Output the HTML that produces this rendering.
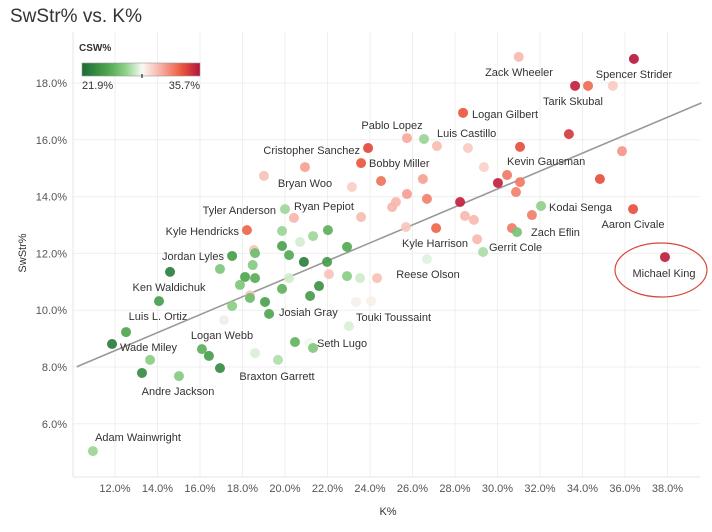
<!DOCTYPE html>
<html><head><meta charset="utf-8"><style>
body{margin:0;background:#fff;font-family:"Liberation Sans",sans-serif}
svg text{font-family:"Liberation Sans",sans-serif}
</style></head><body>
<svg id="c" width="712" height="527" viewBox="0 0 712 527">
<defs><linearGradient id="g" x1="0" x2="1">
<stop offset="0" stop-color="#1b6b33"/><stop offset="0.22" stop-color="#4fa650"/><stop offset="0.37" stop-color="#8fd18a"/><stop offset="0.51" stop-color="#f6faf4"/><stop offset="0.66" stop-color="#f9b3a8"/><stop offset="0.84" stop-color="#ec5a40"/><stop offset="1" stop-color="#b5123d"/></linearGradient></defs>
<text x="10" y="22" font-size="19" fill="#333">SwStr% vs. K%</text>
<g id="grid"></g><g id="axes"></g><g id="line"></g><g id="dots"></g><g id="labels"></g>
<ellipse cx="661" cy="270" rx="46" ry="27" fill="none" stroke="#d9463a" stroke-width="1.2"/>
<g>
<text x="79" y="51" font-size="10" font-weight="bold" fill="#333">CSW%</text>
<rect x="82" y="63" width="118" height="13" fill="url(#g)" stroke="#999" stroke-width="0.6"/>
<line x1="142" y1="74" x2="142" y2="78" stroke="#000" stroke-width="1"/>
<text x="82" y="89" font-size="11" fill="#333">21.9%</text>
<text x="200" y="89" font-size="11" fill="#333" text-anchor="end">35.7%</text>
</g>
<text x="388" y="515" font-size="11" fill="#333" text-anchor="middle">K%</text>
<text transform="translate(26,253) rotate(-90)" font-size="11" fill="#333" text-anchor="middle">SwStr%</text>
</svg>
<script>
const xTicks=[12,14,16,18,20,22,24,26,28,30,32,34,36,38];
const yTicks=[6,8,10,12,14,16,18];
const kPct=[31.0,36.42,33.65,34.26,35.43,28.38,25.74,26.54,27.15,28.61,23.91,23.58,31.06,33.36,35.86,30.45,30.02,31.06,30.87,34.82,28.24,24.52,26.49,25.74,25.04,25.22,26.68,20.94,19.01,23.15,29.36,23.58,25.69,28.47,28.89,27.11,29.04,29.32,32.05,31.62,36.38,30.68,30.92,37.88,20.0,20.42,18.21,19.86,21.32,22.02,20.71,19.86,20.19,20.89,21.98,22.92,17.51,18.54,18.59,16.94,18.12,18.59,17.88,18.35,18.35,17.51,19.06,19.25,19.86,20.19,21.6,21.18,18.48,22.07,22.92,23.53,24.33,26.68,23.01,14.59,14.07,12.52,11.86,13.65,13.27,15.01,10.96,16.09,16.42,16.94,18.59,19.67,20.47,21.13,21.32,17.13,23.34,24.05];
const swStr=[18.92,18.85,17.9,17.9,17.9,16.95,16.06,16.03,15.78,15.71,15.71,15.18,15.75,16.2,15.6,14.76,14.48,14.51,14.16,14.62,13.81,14.55,14.62,14.09,13.63,13.81,13.92,15.04,14.73,14.34,15.04,13.28,12.93,13.32,13.18,12.89,12.5,12.05,13.67,13.35,13.56,12.89,12.75,11.87,13.56,13.25,12.82,12.79,12.61,12.82,12.4,12.26,11.94,11.7,11.7,12.23,11.91,12.12,12.01,11.45,11.17,11.13,10.89,10.52,10.43,10.15,10.29,9.87,10.75,11.13,10.85,10.5,11.59,11.27,11.2,11.13,11.13,11.8,9.44,11.35,10.32,9.23,8.81,8.25,7.79,7.68,5.04,8.63,8.39,7.96,8.49,8.25,8.88,8.85,8.67,9.65,10.29,10.32];
const cswPct=[30.8,35.5,35.2,33,30.3,33.6,31.3,27.2,30.7,30.3,34,33.6,33.8,34.5,31.8,32.6,35.2,32.6,32.4,33.8,35.2,32.8,31.5,31.6,30.9,30.9,32.4,31.5,30.6,30.2,30.1,30.7,30.4,30.8,30.8,33.2,30.8,27.5,27,32.5,33.8,32.6,26.3,35.3,27.3,30.9,33.2,27.2,27.3,25.4,28.3,24.8,25.2,23,24.5,25.2,24.6,30.5,26,26.5,25,25.3,26.5,30.5,26,26.8,24.8,25,25.5,28.2,24,24.5,26.7,30.5,26.8,28.2,30.6,28.5,28.4,23,24.6,25,22.8,26.8,23.6,26.7,27.2,25.4,24.6,23.6,28.4,27.6,25.6,28.8,26.6,29.3,29.2,29.2];
const trendK=[10.2,39.6];
const trendS=[8.01,17.3];
const X=k=>115+(k-12)*21.25, Y=s=>83+(18-s)*28.4;
const NS='http://www.w3.org/2000/svg';
function mk(t,a,p){const e=document.createElementNS(NS,t);for(const q in a)e.setAttribute(q,a[q]);p.appendChild(e);return e;}
const grid=document.getElementById('grid'),axes=document.getElementById('axes');
mk('rect',{x:73,y:32,width:627,height:445,fill:'#fff'},grid);
xTicks.forEach(t=>{const l=mk('line',{x1:X(t),x2:X(t),y1:32,y2:477,stroke:'#efefef'},grid);


const tx=mk('text',{x:X(t),y:492,'font-size':11,fill:'#555','text-anchor':'middle'},axes);tx.textContent=t.toFixed(1)+'%';

});
yTicks.forEach(t=>{const l=mk('line',{x1:73,x2:700,y1:Y(t),y2:Y(t),stroke:'#efefef'},grid);


const tx=mk('text',{x:67,y:Y(t)+4,'font-size':11,fill:'#555','text-anchor':'end'},axes);tx.textContent=t.toFixed(1)+'%';

});
mk('line',{x1:73,x2:73,y1:32,y2:477,stroke:'#e4e4e4'},axes);
mk('line',{x1:73,x2:700,y1:477,y2:477,stroke:'#e4e4e4'},axes);
const tl=mk('line',{x1:X(trendK[0]),y1:Y(trendS[0]),x2:X(trendK[1]),y2:Y(trendS[1]),stroke:'#999','stroke-width':1.6},document.getElementById('line'));


const stops=[[21.9,[27,107,51]],[25,[79,166,80]],[27,[143,209,138]],[28.9,[246,250,244]],[31,[249,179,168]],[33.5,[236,90,64]],[35.7,[181,18,61]]];
function col(v){if(v<=stops[0][0])return 'rgb('+stops[0][1]+')';for(let i=1;i<stops.length;i++){if(v<=stops[i][0]){const a=stops[i-1],b=stops[i],f=(v-a[0])/(b[0]-a[0]);return 'rgb('+a[1].map((c,j)=>Math.round(c+(b[1][j]-c)*f)).join(',')+')';}}return 'rgb('+stops[6][1]+')';}
const dots=document.getElementById('dots');
kPct.forEach((k,i)=>{const c=mk('circle',{cx:X(k),cy:Y(swStr[i]),r:5,fill:col(cswPct[i]),'fill-opacity':0.92},dots);

});
const labs=[["Zack Wheeler",519,72,"middle"],["Spencer Strider",634,74,"middle"],["Tarik Skubal",573,101,"middle"],["Logan Gilbert",472,114,"start"],["Pablo Lopez",392,125,"middle"],["Luis Castillo",437,133,"start"],["Cristopher Sanchez",360,150,"end"],["Bobby Miller",369,163,"start"],["Kevin Gausman",507,161,"start"],["Bryan Woo",305,183,"middle"],["Tyler Anderson",276,210,"end"],["Ryan Pepiot",294,206,"start"],["Kodai Senga",549,207,"start"],["Kyle Hendricks",239,231,"end"],["Aaron Civale",633,224,"middle"],["Zach Eflin",531,232,"start"],["Kyle Harrison",435,243,"middle"],["Gerrit Cole",489,247,"start"],["Jordan Lyles",224,256,"end"],["Reese Olson",428,274,"middle"],["Michael King",664,273,"middle"],["Ken Waldichuk",169,287,"middle"],["Josiah Gray",279,312,"start"],["Luis L. Ortiz",158,316,"middle"],["Touki Toussaint",356,317,"start"],["Logan Webb",222,335,"middle"],["Wade Miley",120,347,"start"],["Seth Lugo",317,343,"start"],["Braxton Garrett",277,376,"middle"],["Andre Jackson",178,391,"middle"],["Adam Wainwright",138,437,"middle"]];
const lg=document.getElementById('labels');
labs.forEach(l=>{const t=mk('text',{x:l[1],y:l[2]+4,'font-size':11,fill:'#333','text-anchor':l[3]},lg);t.textContent=l[0];

});
</script>
</body></html>
